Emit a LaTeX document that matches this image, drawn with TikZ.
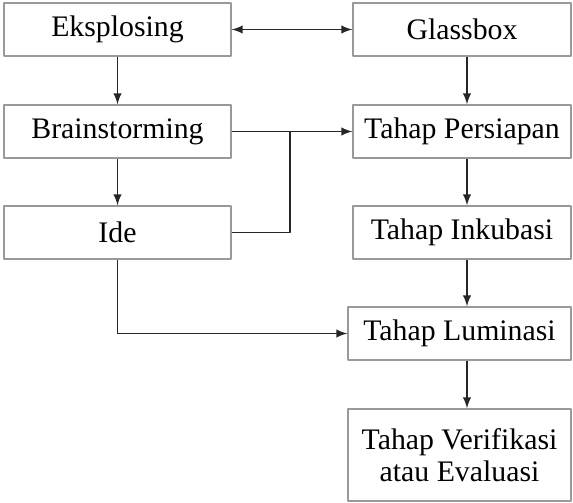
\documentclass[tikz,border=0pt]{standalone}
\usepackage{fontspec}
\setmainfont{Liberation Serif}
\begin{document}
\begin{tikzpicture}[x=0.5pt, y=-0.5pt, line join=round, >=latex,
  font=\fontsize{14.9}{16}\selectfont,
  kotak/.style={draw=gray!80, line width=0.7pt, fill=white, inner sep=0pt,
    minimum height=26.5pt, align=center},
  panah/.style={->, line width=0.9pt, color=black!85}]
 \useasboundingbox (0,0) rectangle (573,503);
 % kolom kiri
 \node[kotak, minimum width=113.5pt] (eks) at (117.5,29.5) {Eksplosing};
 \node[kotak, minimum width=113.5pt] (bra) at (117.5,131.5) {Brainstorming};
 \node[kotak, minimum width=113.5pt] (ide) at (117.5,232.5) {Ide};
 % kolom kanan
 \node[kotak, minimum width=109pt] (gla) at (462,29.5) {Glassbox};
 \node[kotak, minimum width=109pt] (per) at (462,131.5) {Tahap Persiapan};
 \node[kotak, minimum width=109pt] (ink) at (462,232.5) {Tahap Inkubasi};
 \node[kotak, minimum width=111.5pt] (lum) at (459.5,333.5) {Tahap Luminasi};
 \node[kotak, minimum width=111.5pt, minimum height=46pt] (ver) at (459.5,455) {Tahap Verifikasi\\atau Evaluasi};
 \coordinate (j) at (290,131.5);
 \coordinate (k) at (467,0);
 % panah
 \draw[panah, <->] (eks.east) -- (gla.west);
 \draw[panah] (eks.south) -- (bra.north);
 \draw[panah] (bra.south) -- (ide.north);
 \draw[panah] (bra.east) -- (per.west);
 \draw[line width=0.9pt, color=black!85] (ide.east) -| (j);
 \draw[panah] (ide.south) |- (lum.west);
 \draw[panah] (gla.south -| k) -- (per.north -| k);
 \draw[panah] (per.south -| k) -- (ink.north -| k);
 \draw[panah] (ink.south -| k) -- (lum.north -| k);
 \draw[panah] (lum.south -| k) -- (ver.north -| k);
\end{tikzpicture}
\end{document}
